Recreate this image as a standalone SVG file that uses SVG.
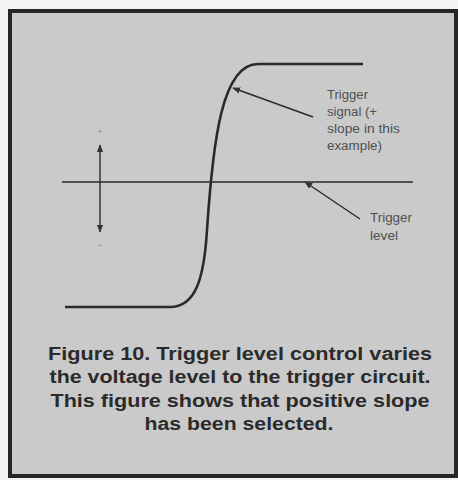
<svg xmlns="http://www.w3.org/2000/svg" width="458" height="480" viewBox="0 0 458 480">
<style>
.lbl{font-family:"Liberation Sans",Arial,sans-serif;font-size:12.5px;fill:#505050}
.cap{font-family:"Liberation Sans",Arial,sans-serif;font-size:18px;font-weight:bold;fill:#2b2b2b;text-anchor:middle}
.ln{stroke:#2a2a2a;fill:none}
</style>
<defs>
<marker id="ah" viewBox="0 0 10 10" refX="9" refY="5" markerWidth="8" markerHeight="8" orient="auto-start-reverse" markerUnits="userSpaceOnUse">
<path d="M0,1 L10,5 L0,9 Z" fill="#333"/>
</marker>
</defs>
<rect x="0" y="0" width="458" height="480" fill="#f4f4f4"/>
<rect id="frame" x="10" y="11" width="446" height="465" fill="#cacaca" stroke="#262626" stroke-width="4"/>
<g id="signal">
<path class="ln" stroke-width="2.6" d="M65,307 L170,307 C195,307 204,280 207,230 C213,140 222,64 258,64 L363,64"/>
</g>
<g id="level-line">
<line class="ln" stroke-width="1.5" x1="62" y1="182" x2="413" y2="182"/>
</g>
<g id="connectors">
<line class="ln" stroke-width="1.4" x1="313" y1="117" x2="233" y2="88" marker-end="url(#ah)"/>
<line class="ln" stroke-width="1.4" x1="360" y1="219" x2="305" y2="182" marker-end="url(#ah)"/>
<line class="ln" stroke-width="1.4" x1="100" y1="145" x2="100" y2="232" marker-start="url(#ah)" marker-end="url(#ah)"/>
</g>
<g id="pm">
<text class="lbl" x="100" y="134" text-anchor="middle" style="font-size:8px;fill:#888">+</text>
<text class="lbl" x="100" y="248" text-anchor="middle" style="font-size:8px;fill:#888">−</text>
</g>
<g id="label-signal">
<text class="lbl" x="327" y="99" textLength="41" lengthAdjust="spacingAndGlyphs">Trigger</text>
<text class="lbl" x="327" y="116" textLength="50" lengthAdjust="spacingAndGlyphs">signal (+</text>
<text class="lbl" x="327" y="133" textLength="73" lengthAdjust="spacingAndGlyphs">slope in this</text>
<text class="lbl" x="327" y="150" textLength="55" lengthAdjust="spacingAndGlyphs">example)</text>
</g>
<g id="label-level">
<text class="lbl" x="370" y="222" textLength="42" lengthAdjust="spacingAndGlyphs">Trigger</text>
<text class="lbl" x="370" y="240" textLength="28" lengthAdjust="spacingAndGlyphs">level</text>
</g>
<g id="caption">
<text class="cap" x="240" y="360" textLength="384" lengthAdjust="spacingAndGlyphs">Figure 10. Trigger level control varies</text>
<text class="cap" x="240" y="383" textLength="381" lengthAdjust="spacingAndGlyphs">the voltage level to the trigger circuit.</text>
<text class="cap" x="240" y="407" textLength="379" lengthAdjust="spacingAndGlyphs">This figure shows that positive slope</text>
<text class="cap" x="239" y="430" textLength="189" lengthAdjust="spacingAndGlyphs">has been selected.</text>
</g>
</svg>
